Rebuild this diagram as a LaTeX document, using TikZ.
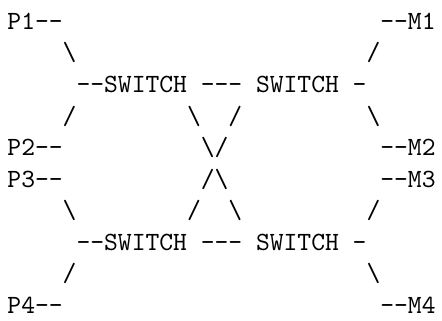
\documentclass[tikz,border=0pt]{standalone}
\begin{document}
% Monospaced text pieces placed on a character grid:
% one unit in x is one column, one unit in y is one line.
\newcommand{\bs}{\textbackslash}
\begin{tikzpicture}[x=5.25pt, y=-12pt,
  txt/.style={anchor=base west, inner sep=0pt, outer sep=0pt,
              font=\ttfamily\fontsize{10}{12}\selectfont}]
\useasboundingbox (-2.85pt,11.14pt) rectangle (165.2pt,-110.52pt);

% line 0
\node[txt] (p1) at (0,0) {P1-{}-};
\node[txt] (m1) at (27,0) {-{}-M1};
% line 1
\node[txt] (l1a) at (4,1) {\bs};
\node[txt] (l1b) at (26,1) {/};
% line 2: upper switches
\node[txt] (swA) at (5,2) {-{}-SWITCH};
\node[txt] (lkA) at (14,2) {-{}-{}-};
\node[txt] (swB) at (18,2) {SWITCH};
\node[txt] (tlB) at (25,2) {-};
% line 3
\node[txt] (l3a) at (4,3) {/};
\node[txt] (l3b) at (13,3) {\bs};
\node[txt] (l3c) at (16,3) {/};
\node[txt] (l3d) at (26,3) {\bs};
% line 4
\node[txt] (p2) at (0,4) {P2-{}-};
\node[txt] (x1) at (14,4) {\bs/};
\node[txt] (m2) at (27,4) {-{}-M2};
% line 5
\node[txt] (p3) at (0,5) {P3-{}-};
\node[txt] (x2) at (14,5) {/\bs};
\node[txt] (m3) at (27,5) {-{}-M3};
% line 6
\node[txt] (l6a) at (4,6) {\bs};
\node[txt] (l6b) at (13,6) {/};
\node[txt] (l6c) at (16,6) {\bs};
\node[txt] (l6d) at (26,6) {/};
% line 7: lower switches
\node[txt] (swC) at (5,7) {-{}-SWITCH};
\node[txt] (lkB) at (14,7) {-{}-{}-};
\node[txt] (swD) at (18,7) {SWITCH};
\node[txt] (tlD) at (25,7) {-};
% line 8
\node[txt] (l8a) at (4,8) {/};
\node[txt] (l8b) at (26,8) {\bs};
% line 9
\node[txt] (p4) at (0,9) {P4-{}-};
\node[txt] (m4) at (27,9) {-{}-M4};
\end{tikzpicture}
\end{document}
